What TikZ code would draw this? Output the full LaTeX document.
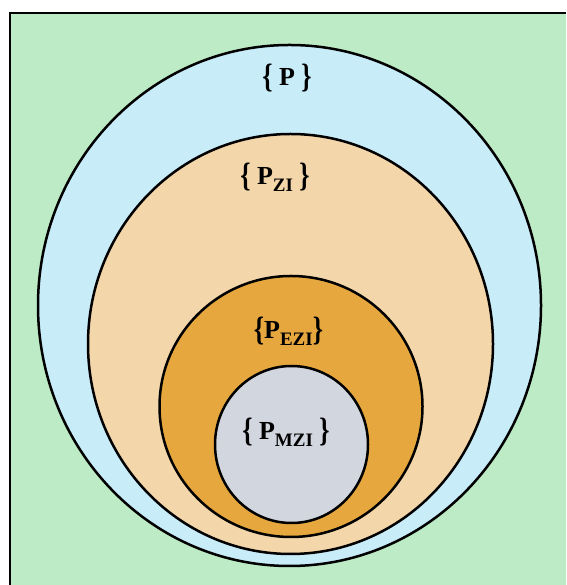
\documentclass[tikz,border=0pt]{standalone}
\usepackage{fontspec}
\setmainfont{Liberation Serif}
\usetikzlibrary{shapes.geometric}
\definecolor{cGreen}{HTML}{BDEBC6}
\definecolor{cSky}{HTML}{C9ECF9}
\definecolor{cSand}{HTML}{F3D6A9}
\definecolor{cAmber}{HTML}{E6A73E}
\definecolor{cGray}{HTML}{D2D6DE}
\newcommand{\setsub}[1]{\raisebox{-7pt}{\fontsize{19}{19}\selectfont #1}}
\newcommand{\lbr}{\raisebox{-2pt}{\scalebox{1}[1.3]{\{}}}
\newcommand{\rbr}{\raisebox{-2pt}{\scalebox{1}[1.3]{\}}}}

\begin{document}
\begin{tikzpicture}[
  x=1pt, y=1pt,
  setnode/.style={ellipse, draw=black, fill=#1, line width=2.5pt,
    inner sep=0pt},
  lbl/.style={font=\fontsize{26}{26}\selectfont\bfseries, text=black,
    inner sep=0pt}
]
  \useasboundingbox (0,0) rectangle (566,585);

  % frame
  \fill[cGreen] (10,0) rectangle (566,572);
  \draw[line width=1.8pt] (10,0) -- (10,572) -- (566,572);

  % nested sets
  \node[setnode=cSky, minimum width=503pt, minimum height=521pt] (setP) at (289.5,279.5) {};
  \node[setnode=cSand, minimum width=405pt, minimum height=420pt] (setZI) at (290.5,241) {};
  \node[setnode=cAmber, minimum width=263pt, minimum height=261pt] (setEZI) at (291,178.5) {};
  \node[setnode=cGray, minimum width=153pt, minimum height=157pt] (setMZI) at (291.5,140.5) {};

  % labels
  \node[lbl] (labP) at (287,507) {\lbr\ P \rbr};
  \node[lbl] (labZI) at (275,408) {\lbr\ P\setsub{ZI} \rbr};
  \node[lbl] (labEZI) at (288.5,254) {\lbr P\setsub{EZI}\rbr};
  \node[lbl] (labMZI) at (286,153) {\lbr\ P\setsub{MZI} \rbr};

\end{tikzpicture}
\end{document}
